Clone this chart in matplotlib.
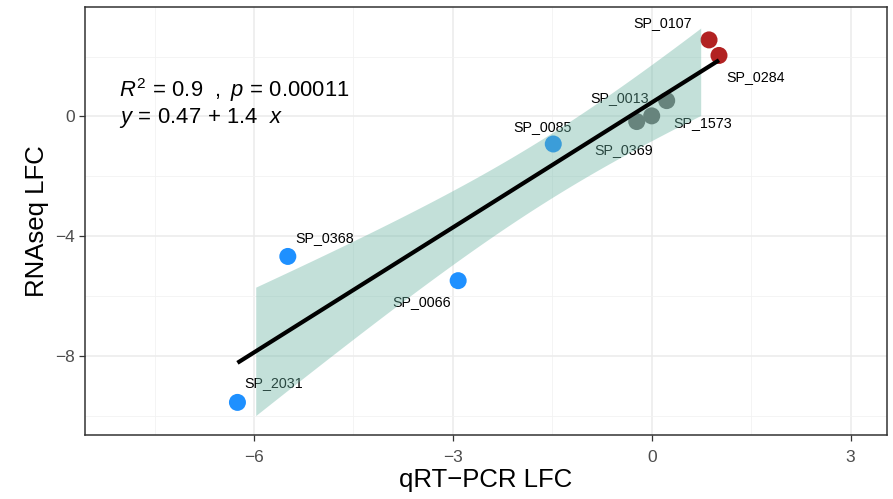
import numpy as np
import matplotlib
matplotlib.use("Agg")
import matplotlib.pyplot as plt

plt.rcParams['font.family'] = ['Liberation Sans', 'DejaVu Sans']
plt.rcParams['mathtext.fontset'] = 'custom'
plt.rcParams['mathtext.rm'] = 'Liberation Sans'
plt.rcParams['mathtext.it'] = 'Liberation Sans:italic'

# ---------------- data ----------------
genes = ["SP_0107", "SP_0284", "SP_0013", "SP_1573", "SP_0369",
         "SP_0085", "SP_0368", "SP_0066", "SP_2031"]
qpcr_lfc = [0.865, 1.015, 0.226, 0.0, -0.226, -1.485, -5.49, -2.92, -6.25]
rnaseq_lfc = [2.56, 2.04, 0.53, 0.02, -0.17, -0.92, -4.68, -5.49, -9.56]
status = ["up", "up", "ns", "ns", "ns", "down", "down", "down", "down"]

status_colors = {"up": "#B22222", "ns": "#666666", "down": "#1E90FF"}

# label nudges (pixels) as placed by the repel step
label_dx = [-46, 37, -47, 51, -13, -11, 37, -37, 36]
label_dy = [13, -26, -1, -11, -32, 13, 14, -25, 15]

stats_line1 = r"$R^{2}\,=\,0.9\ \ ,\ p\,=\,0.00011$"
stats_line2 = r"$y\,=\,0.47\,+\,1.4\ \ x$"

x_limits = (-8, 3)
y_limits = (-10, 3)

# ---------------- fit ----------------
x = np.array(qpcr_lfc)
y = np.array(rnaseq_lfc)
n = len(x)
slope, intercept = np.polyfit(x, y, 1)
resid = y - (intercept + slope * x)
s = np.sqrt(np.sum(resid ** 2) / (n - 2))
sxx = np.sum((x - x.mean()) ** 2)
t_crit = 2.364624  # t(0.975, df=7)

xg = np.linspace(x.min(), x.max(), 80)
yg = intercept + slope * xg
se = s * np.sqrt(1.0 / n + (xg - x.mean()) ** 2 / sxx)
lo = yg - t_crit * se
hi = yg + t_crit * se
# values outside the scale limits get dropped (like ggplot)
keep = (lo >= y_limits[0]) & (hi <= y_limits[1])

# ---------------- plot ----------------
fig = plt.figure(figsize=(8.93, 4.99), dpi=100)
ax = fig.add_axes([85 / 893, 1 - 435 / 499, 802 / 893, 427.7 / 499])

xr = x_limits[1] - x_limits[0]
yr = y_limits[1] - y_limits[0]
ax.set_xlim(x_limits[0] - 0.05 * xr, x_limits[1] + 0.05 * xr)
ax.set_ylim(y_limits[0] - 0.05 * yr, y_limits[1] + 0.05 * yr)

ax.set_xticks([-6, -3, 0, 3])
ax.set_xticks([-7.5, -4.5, -1.5, 1.5], minor=True)
ax.set_yticks([-8, -4, 0])
ax.set_yticks([-10, -6, -2, 2], minor=True)
ax.grid(True, which='major', color='#EBEBEB', lw=1.1, zorder=0)
ax.grid(True, which='minor', color='#F2F2F2', lw=0.6, zorder=0)
ax.set_axisbelow(True)

for sp in ax.spines.values():
    sp.set_color('#333333')
    sp.set_linewidth(1.1)
ax.tick_params(which='major', length=4, width=0.9, color='#333333',
               labelsize=12.5, labelcolor='#4D4D4D', pad=3)
ax.tick_params(axis='x', which='major', pad=7)
ax.tick_params(which='minor', length=0)

cols = [status_colors[k] for k in status]
ax.scatter(x, y, s=150, c=cols, linewidths=0, zorder=2)

for g, xi, yi, dx, dy in zip(genes, x, y, label_dx, label_dy):
    ax.annotate(g, (xi, yi), xytext=(dx, dy), textcoords='offset pixels',
                ha='center', va='baseline', fontsize=10.3, color='black', zorder=3)

ax.fill_between(xg, lo, hi, where=keep, color='#69b3a2', alpha=0.4,
                linewidth=0, zorder=4)
ax.plot(xg, yg, color='black', lw=3.0, solid_capstyle='butt', zorder=5)

ax.text(-8.03, 0.64, stats_line1, fontsize=15.8, ha='left', va='baseline', zorder=6)
ax.text(-8.03, -0.23, stats_line2, fontsize=15.8, ha='left', va='baseline', zorder=6)

ax.set_xlabel("qRT\u2212PCR LFC", fontsize=18.5, labelpad=2)
ax.set_ylabel("RNAseq LFC", fontsize=18.5, labelpad=5)

fig.savefig("out.png", dpi=100)
